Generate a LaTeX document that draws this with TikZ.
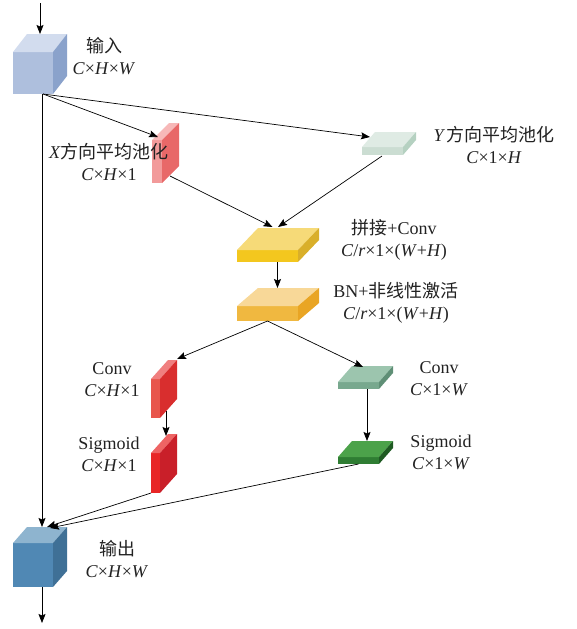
\documentclass[tikz,border=0pt]{standalone}
\usepackage{fontspec}
\setmainfont{Liberation Serif}
\newfontfamily\cjk{Noto Sans CJK SC}
\usetikzlibrary{arrows.meta,calc}

\definecolor{inF}{HTML}{AEBFDD}\definecolor{inT}{HTML}{D2DCEE}\definecolor{inR}{HTML}{8AA2CB}
\definecolor{outF}{HTML}{5088B4}\definecolor{outT}{HTML}{8EB4CF}\definecolor{outR}{HTML}{3F7096}
\definecolor{xpF}{HTML}{F29A9A}\definecolor{xpT}{HTML}{F7B8B8}\definecolor{xpR}{HTML}{E86868}
\definecolor{ypF}{HTML}{CBDDD2}\definecolor{ypT}{HTML}{DFEBE4}\definecolor{ypR}{HTML}{B5D1C1}
\definecolor{ccF}{HTML}{F3C71E}\definecolor{ccT}{HTML}{F6DA78}\definecolor{ccR}{HTML}{D9AF2A}
\definecolor{bnF}{HTML}{F0B840}\definecolor{bnT}{HTML}{F8D898}\definecolor{bnR}{HTML}{E9A524}
\definecolor{rcF}{HTML}{E8564C}\definecolor{rcT}{HTML}{F07F7F}\definecolor{rcR}{HTML}{D92E2E}
\definecolor{rsF}{HTML}{E82626}\definecolor{rsT}{HTML}{EE6464}\definecolor{rsR}{HTML}{C91F29}
\definecolor{gcF}{HTML}{78A88E}\definecolor{gcT}{HTML}{9CC5AE}\definecolor{gcR}{HTML}{5F8F76}
\definecolor{gsF}{HTML}{2F7D33}\definecolor{gsT}{HTML}{4CA24A}\definecolor{gsR}{HTML}{1E5A22}
\definecolor{txt}{HTML}{222222}

\newcommand{\cuboid}[7]{%
  \node[blockface, fill=#1F, minimum width=#4pt, minimum height=#5pt, anchor=north west] (#1) at (#2,#3) {};
  \fill[#1T] (#1.north west) -- ++(#6,#7) -- ($(#1.north east)+(#6,#7)$) -- (#1.north east) -- cycle;
  \fill[#1R] (#1.north east) -- ++(#6,#7) -- ($(#1.south east)+(#6,#7)$) -- (#1.south east) -- cycle;
}
\newcommand{\vi}[1]{\textit{#1}}

\begin{document}
\begin{tikzpicture}[x=1pt,y=-1pt,
  blockface/.style={rectangle, draw=none, inner sep=0pt, outer sep=0pt},
  arr/.style={draw=black, line width=0.7pt, -{Stealth[length=9pt,width=7pt,inset=1.5pt]}},
  ln/.style={draw=black, line width=0.7pt},
  lab/.style={align=center, inner sep=0pt, text=txt, font=\fontsize{18}{22}\selectfont}]
\useasboundingbox (0,0) rectangle (576,629);

% blocks
\cuboid{in}{13}{52}{40}{42}{14}{-18}
\cuboid{xp}{152}{140}{10}{43}{17}{-17}
\cuboid{yp}{362}{147}{41}{8}{13}{-15}
\cuboid{cc}{237}{250}{61}{12}{21}{-22}
\cuboid{bn}{237}{306}{61}{15}{21}{-18}
\cuboid{rc}{151}{379}{9}{39}{17}{-19}
\cuboid{rs}{151}{453}{9}{40}{17}{-19}
\cuboid{gc}{338}{382}{41}{7}{14}{-16}
\cuboid{gs}{338}{457}{41}{7}{14}{-16}
\cuboid{out}{13}{543}{40}{44}{14}{-16}

% free ends
\coordinate (src) at (40,3);
\coordinate (sink) at (42,623);

% labels
\node[lab] (linl) at (104,56.5) {{\cjk 输入}\\\vi{C}×\vi{H}×\vi{W}};
\node[lab] (lxp) at (109,162) {\vi{X}{\cjk 方向平均池化}\\\vi{C}×\vi{H}×1};
\node[lab] (lyp) at (494,144.5) {\vi{Y\,}{\cjk 方向平均池化}\\\vi{C}×1×\vi{H}};
\node[lab] (lcc) at (394,240) {{\cjk 拼接}+Conv\\\vi{C}/\vi{r}×1×(\vi{W}+\vi{H})};
\node[lab] (lbn) at (396,303) {BN+{\cjk 非线性激活}\\\vi{C}/\vi{r}×1×(\vi{W}+\vi{H})};
\node[lab] (lrc) at (112,380) {Conv\\\vi{C}×\vi{H}×1};
\node[lab] (lrs) at (109,454) {Sigmoid\\\vi{C}×\vi{H}×1};
\node[lab] (lgc) at (439,378.5) {Conv\\\vi{C}×1×\vi{W}};
\node[lab] (lgs) at (441,452) {Sigmoid\\\vi{C}×1×\vi{W}};
\node[lab] (lout) at (117,559) {{\cjk 输出}\\\vi{C}×\vi{H}×\vi{W}};

% connectors
\draw[arr] (src) -- ($(in.north)+(7,-18)$);
\draw[arr] ($(in.south)+(9,0)$) -- ($(out.north)+(9,-16)$);
\draw[arr] ($(in.south)+(10,0)$) -- ($(xp.north)+(1,-3)$);
\draw[arr] ($(in.south)+(10,0)$) -- ($(yp.north)+(-12.5,-10)$);
\draw[arr] ($(xp.south east)+(8,-7)$) -- ($(cc.north)+(5,-23)$);
\draw[arr] ($(yp.south)+(-0.5,1)$) -- ($(cc.north)+(10.5,-23)$);
\draw[arr] ($(cc.south)+(10,0)$) -- ($(bn.north)+(10,-18)$);
\draw[arr] (bn.south) -- ($(rc.north east)+(17,-20)$);
\draw[arr] (bn.south) -- ($(gc.north)+(4.5,-15)$);
\draw[arr] ($(rc.south east)+(6,-7)$) -- ($(rs.north west)+(15,-17)$);
\draw[arr] ($(gc.south)+(8.5,0)$) -- ($(gs.north)+(8.5,-16)$);
\draw[arr] (rs.south west) -- ($(out.north)+(14,-16)$);
\draw[arr] (gs.south) -- ($(out.north)+(17,-15)$);
\draw[arr] ($(out.south)+(9,0)$) -- (sink);
\end{tikzpicture}
\end{document}
